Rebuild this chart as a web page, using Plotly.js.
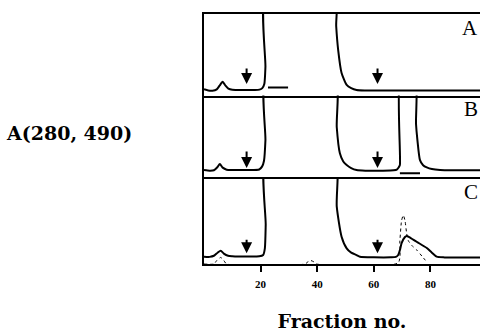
<!DOCTYPE html>
<html>
<head>
<meta charset="utf-8">
<script src="https://cdn.plot.ly/plotly-3.0.1.min.js"></script>
<style>html,body{margin:0;padding:0;background:#fff;}#chart{width:480px;height:332px;}</style>
</head>
<body>
<div id="chart"></div>
<script>
// Panel A trace
const xA = [0, 1.5, 3, 4.5, 5.5, 6.6, 7.6, 8.6, 10, 14, 18, 19.6, 20.6, 21.3, 21.7, 22.1, 46.2, 46.7, 47.4, 48.6, 50.4, 52, 53.9, 57, 65, 80, 97.5];
const yA = [7.6, 6.2, 5.9, 7.5, 12, 16.9, 12, 8.5, 7, 6.7, 6.7, 7.2, 9, 14, 35, 130, 130, 85, 55.8, 27.6, 12.9, 9, 6.8, 6.2, 6, 6, 6];
// Panel B trace
const xB = [0, 2, 3.5, 4.7, 5.6, 6.6, 8, 10, 15, 19.5, 20.5, 21.2, 21.7, 22.1, 46.2, 46.9, 48, 49.2, 50.4, 52, 53.9, 57, 63, 67, 68.1, 68.8, 69.2, 69.6, 74.5, 74.9, 75.4, 76.3, 77.4, 78.7, 80.5, 83.4, 88, 97.5];
const yB = [8.6, 7.8, 8.3, 12, 16, 11.5, 9, 8.6, 8.6, 9.2, 12.7, 20, 45, 130, 130, 61, 29, 19, 14.7, 11, 8.6, 7.8, 7.8, 8.2, 9, 12, 14.7, 130, 130, 65, 45, 20.7, 14.5, 11.8, 9.8, 8.6, 8.2, 8.2];
// Panel C solid trace
const xC = [0, 2, 3.5, 4.8, 5.9, 7, 8.5, 10, 15, 19.5, 20.9, 21.5, 21.8, 22.1, 46.2, 46.9, 48.6, 50.4, 52, 53.9, 55.1, 60, 66, 67.8, 68.6, 69.3, 69.8, 71, 71.6, 72.5, 75.1, 78.7, 80.5, 82.2, 85, 97.5];
const yC = [8.4, 8.2, 9.5, 13, 15.3, 12, 9.5, 9, 8.6, 8.8, 10.3, 18, 45, 130, 130, 65.9, 31.4, 18, 13, 10.3, 8.4, 7.7, 7.7, 8.2, 10.3, 17, 24, 31, 32.2, 31, 25.6, 18.4, 13, 8.4, 7.6, 7.5];
// Panel C dotted trace
const xCd = [0, 3.5, 4.5, 5.9, 7, 8, 35.7, 36.7, 37.7, 38.8, 39.8, 68.6, 69.2, 69.8, 70.4, 71, 71.6, 72.2, 73.5, 75.1, 77, 78.9];
const yCd = [0, 0, 4, 7.5, 4, 0, 0, 2.5, 4, 2.5, 0, 1.5, 26.7, 50, 56, 50, 35, 26.7, 21, 16.3, 9, 1.5];
// Short bars
const barAx = [22.6, 29.7], barAy = [9.8, 9.8];
const barBx = [69.2, 76.3], barBy = [4.5, 4.5];
// Arrows (x positions, tail and head heights per panel)
const arrowX = [15.05, 61.3];
const arrowA = [35, 14.1], arrowB = [33, 11], arrowC = [29.5, 12.3];
const tickVals = [20, 40, 60, 80];
const tickText = ['20', '40', '60', '80'];
const panelLabels = ['A', 'B', 'C'];

const lineSolid = {color: '#000', width: 2, shape: 'spline', smoothing: 0.6};
const traces = [
  {x: xA, y: yA, xaxis: 'x3', yaxis: 'y3', mode: 'lines', line: lineSolid},
  {x: barAx, y: barAy, xaxis: 'x3', yaxis: 'y3', mode: 'lines', line: {color: '#000', width: 2}},
  {x: xB, y: yB, xaxis: 'x2', yaxis: 'y2', mode: 'lines', line: lineSolid},
  {x: barBx, y: barBy, xaxis: 'x2', yaxis: 'y2', mode: 'lines', line: {color: '#000', width: 2}},
  {x: xCd, y: yCd, xaxis: 'x', yaxis: 'y', mode: 'lines', line: {color: '#000', width: 1, dash: 'dot', shape: 'spline', smoothing: 0.6}},
  {x: xC, y: yC, xaxis: 'x', yaxis: 'y', mode: 'lines', line: lineSolid}
];

const serif = 'Liberation Serif, Times New Roman, serif';
const wideSerif = 'DejaVu Serif, serif';
const xr = [0, 97.5];
const baseX = {range: xr, showline: true, mirror: false, linewidth: 2, linecolor: '#000', showgrid: false, zeroline: false, fixedrange: true};
const baseY = {range: [0, 100], showline: true, linewidth: 2, linecolor: '#000', showgrid: false, zeroline: false, showticklabels: false, ticks: ''};

const annotations = [];
const panels = [['x3', 'y3', arrowA], ['x2', 'y2', arrowB], ['x', 'y', arrowC]];
panels.forEach(([xa, ya, ar], i) => {
  arrowX.forEach(ax => {
    annotations.push({xref: xa, yref: ya, axref: xa, ayref: ya, x: ax, y: ar[1], ax: ax, ay: ar[0], text: '', showarrow: true, arrowhead: 2, arrowsize: 1.1, arrowwidth: 2, arrowcolor: '#000', standoff: 0});
  });
  annotations.push({xref: 'paper', yref: ya + ' domain', x: 1.0, y: 0.83, xanchor: 'right', yanchor: 'middle', text: panelLabels[i], showarrow: false, font: {family: serif, size: 21, color: '#000'}});
});
annotations.push({xref: 'paper', yref: 'paper', x: -0.489, y: 0.525, xanchor: 'center', yanchor: 'middle', text: 'A(280, 490)', showarrow: false, font: {family: wideSerif, size: 19, color: '#000', weight: 'bold'}});

const layout = {
  width: 480, height: 332,
  margin: {l: 204, r: 0, t: 14, b: 68},
  paper_bgcolor: '#fff', plot_bgcolor: '#fff',
  showlegend: false,
  xaxis: Object.assign({}, baseX, {anchor: 'y', ticks: 'outside', ticklen: 6, tickwidth: 2, tickcolor: '#000', tickvals: tickVals, ticktext: tickText, ticklabelstandoff: 3, tickfont: {family: serif, size: 11, color: '#000', weight: 'bold'}, title: {text: 'Fraction no.', font: {family: wideSerif, size: 19, color: '#000', weight: 'bold'}, standoff: 25}}),
  xaxis2: Object.assign({}, baseX, {anchor: 'y2', matches: 'x', showticklabels: false, ticks: ''}),
  xaxis3: Object.assign({}, baseX, {anchor: 'y3', matches: 'x', mirror: true, showticklabels: false, ticks: ''}),
  yaxis: Object.assign({}, baseY, {domain: [0, 0.348], anchor: 'x'}),
  yaxis2: Object.assign({}, baseY, {domain: [0.348, 0.674], anchor: 'x2'}),
  yaxis3: Object.assign({}, baseY, {domain: [0.674, 1], anchor: 'x3'}),
  annotations: annotations
};
Plotly.newPlot('chart', traces, layout, {staticPlot: true, displayModeBar: false});
</script>
</body>
</html>
